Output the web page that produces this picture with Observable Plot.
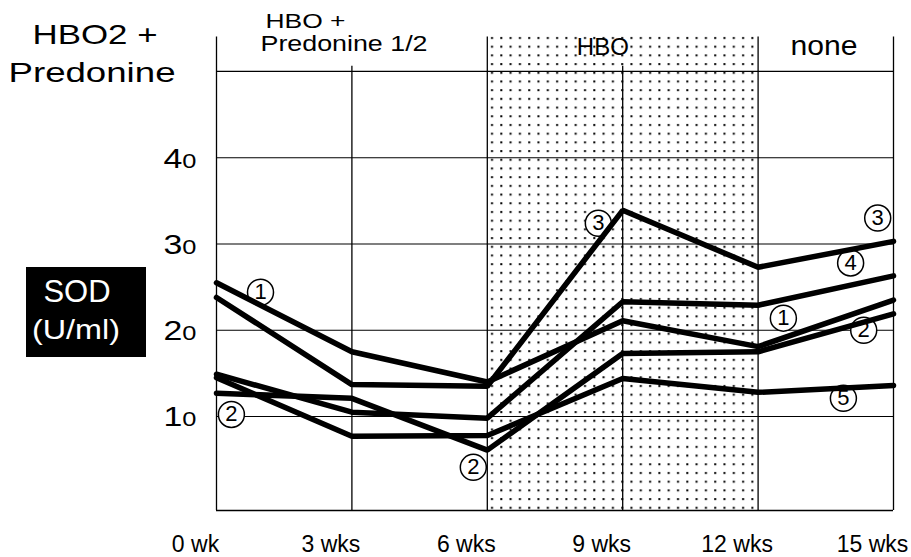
<!DOCTYPE html>
<html><head><meta charset="utf-8">
<script src="https://cdn.jsdelivr.net/npm/d3@7"></script>
<script src="https://cdn.jsdelivr.net/npm/@observablehq/plot@0.6"></script>
<style>
html,body{margin:0;padding:0;background:#fff;}
#chart{width:911px;height:557px;overflow:hidden;}
</style></head><body><div id="chart"></div>
<script>
// ---- data ----
const weeks = [0, 3, 6, 9, 12, 15];
const weekLabels = ["0 wk", "3 wks", "6 wks", "9 wks", "12 wks", "15 wks"];
const yTicks = [10, 20, 30, 40];
const seriesNames = ["1", "2", "3", "4", "5"];
const patient1 = [25.5, 17.5, 14.0, 21.1, 18.1, 23.5];
const patient2 = [12.7, 12.1, 6.1, 17.3, 17.5, 21.9];
const patient3 = [23.8, 13.7, 13.5, 33.9, 27.3, 30.3];
const patient4 = [14.9, 10.5, 9.8, 23.3, 22.9, 26.3];
const patient5 = [14.5, 7.7, 7.8, 14.4, 12.8, 13.6];
const seriesValues = [patient1, patient2, patient3, patient4, patient5];
// treatment phases (weeks)
const phaseStarts = [0, 6, 12];
const phaseEnds = [6, 12, 15];
const dottedPhase = {start: 6, end: 12};
// circled series labels (week, SOD)
const circleNums = ["1", "2", "2", "3", "3", "4", "1", "2", "5"];
const circleWeeks = [0.975, 0.33, 5.69, 8.46, 14.65, 14.05, 12.56, 14.34, 13.89];
const circleSod = [24.4, 10.24, 4.1, 32.4, 33.0, 27.8, 21.4, 20.0, 12.1];
// header texts
const headerTexts = ["HBO +", "Predonine 1/2", "HBO", "none"];
const headerWeeks = [1.086, 0.975, 8.56, 13.46];
const titleLines = ["HBO2 +", "Predonine"];
const yTitleLines = ["SOD", "(U/ml)"];

// ---- derived tables ----
const lineData = seriesNames.flatMap((s, i) => weeks.map((w, j) => ({series: s, week: w, sod: seriesValues[i][j]})));
const circles = circleNums.map((n, i) => ({num: n, week: circleWeeks[i], sod: circleSod[i]}));
const yTop = 54.4, yBottom = -0.9, headerLine = 50;
const font = "'Liberation Sans', Arial, Helvetica, sans-serif";

const headerMark = (i, dy, size, anchor) =>
  Plot.text([i], {x: j => headerWeeks[j], text: j => headerTexts[j], frameAnchor: "top", lineAnchor: "middle",
    textAnchor: anchor, dy, fontSize: size});

const plot = Plot.plot({
  width: 911,
  height: 557,
  marginLeft: 216,
  marginRight: 18,
  marginTop: 33,
  marginBottom: 47,
  x: {domain: [0, 15], axis: null},
  y: {domain: [yBottom, yTop], axis: null},
  style: {fontFamily: font, background: "white", color: "black", overflow: "visible"},
  marks: [
    Plot.rect([dottedPhase], {x1: "start", x2: "end", y1: yBottom, y2: yTop, fill: "url(#dots)"}),
    // horizontal grid
    Plot.ruleY(yTicks, {x1: 0, x2: 15, stroke: "black", strokeWidth: 1.1}),
    Plot.ruleY([headerLine, yBottom], {x1: 0, x2: 15, stroke: "black", strokeWidth: 1.3}),
    // vertical lines: phase boundaries full height, others from header down
    Plot.ruleX([...phaseStarts, phaseEnds[phaseEnds.length - 1]], {y1: yBottom, y2: yTop - 0.4, stroke: "black", strokeWidth: 1.3}),
    Plot.ruleX(weeks.filter(w => !phaseStarts.includes(w) && !phaseEnds.includes(w)), {y1: yBottom, y2: headerLine + 0.6, stroke: "black", strokeWidth: 1.3}),
    // circle labels background
    Plot.dot(circles, {x: "week", y: "sod", r: 13, fill: "white", stroke: "black", strokeWidth: 1.5}),
    // series lines
    Plot.line(lineData, {x: "week", y: "sod", z: "series", stroke: "black", strokeWidth: 5.5, strokeLinejoin: "miter"}),
    Plot.text(circles, {x: "week", y: "sod", text: "num", fontSize: 22, fill: "black"}),
    // y tick labels
    Plot.text(yTicks, {y: d => d, text: d => String(d), frameAnchor: "left", lineAnchor: "middle", textAnchor: "end", dx: -20, dy: 1, fontSize: 28}),
    // x tick labels
    Plot.text(weeks, {x: d => d, text: (d, i) => weekLabels[i], frameAnchor: "bottom", lineAnchor: "bottom", dx: -21, dy: 41, fontSize: 23}),
    // header texts
    headerMark(0, -12, 21, "start"),
    headerMark(1, 10, 22, "start"),
    headerMark(2, 14.3, 24, "middle"),
    headerMark(3, 12.4, 27, "middle"),
    // title
    Plot.text([0], {text: () => titleLines[0], frameAnchor: "top-left", lineAnchor: "top", textAnchor: "start", dx: -184, dy: -9, fontSize: 28}),
    Plot.text([0], {text: () => titleLines[1], frameAnchor: "top-left", lineAnchor: "top", textAnchor: "start", dx: -208, dy: 29, fontSize: 28})
  ]
});

const svg = plot;
const root = d3.select(svg);
// dot pattern
const defs = root.insert("defs", ":first-child");
const pat = defs.append("pattern").attr("id", "dots").attr("patternUnits", "userSpaceOnUse")
  .attr("x", 488).attr("y", 34).attr("width", 9.3).attr("height", 8.7);
pat.append("rect").attr("x", 3).attr("y", 3).attr("width", 2).attr("height", 2).attr("fill", "black");

// y tick labels: smaller second digit
root.selectAll("text").filter(function () { return ["10", "20", "30", "40"].includes(this.textContent); })
  .each(function () {
    const t = this.textContent, s = d3.select(this);
    s.text(null);
    s.append("tspan").text(t[0]);
    s.append("tspan").attr("font-size", 21).text(t.slice(1));
    s.attr("textLength", 33).attr("lengthAdjust", "spacingAndGlyphs");
  });

// SOD box in the left margin
const g = root.append("g");
g.append("rect").attr("x", 26).attr("y", 267).attr("width", 120).attr("height", 90).attr("fill", "black");
g.append("text").attr("x", 77).attr("y", 302).attr("text-anchor", "middle").attr("fill", "white")
  .attr("font-size", 31).attr("font-family", font).text(yTitleLines[0]);
g.append("text").attr("x", 76).attr("y", 339).attr("text-anchor", "middle").attr("fill", "white")
  .attr("font-size", 28).attr("font-family", font).text(yTitleLines[1]);

// the scanned original is set slightly wide: stretch texts to its widths
const widths = {"HBO2 +": 125, "Predonine": 167, "HBO +": 80, "Predonine 1/2": 167, "none": 67, "(U/ml)": 88};
root.selectAll("text").each(function () {
  const w = widths[this.textContent];
  if (w) d3.select(this).attr("textLength", w).attr("lengthAdjust", "spacingAndGlyphs");
});

document.getElementById("chart").appendChild(svg);
</script>
</body></html>
